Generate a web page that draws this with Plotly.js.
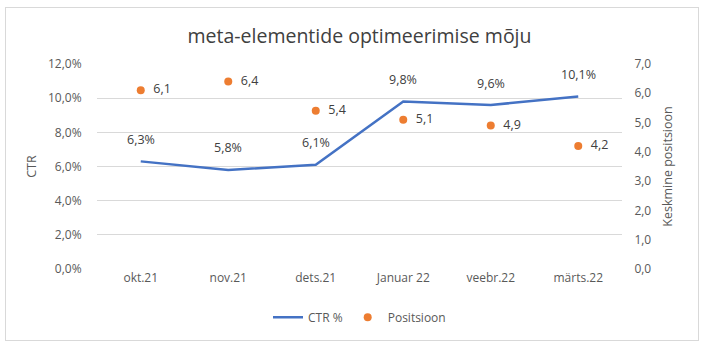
<!DOCTYPE html>
<html><head><meta charset="utf-8">
<script src="https://cdn.plot.ly/plotly-3.0.1.min.js"></script>
<style>
html,body{margin:0;padding:0;background:#fff;}
#wrap{position:relative;width:704px;height:350px;}
#chart{width:704px;height:350px;}
#frame{position:absolute;left:5px;top:7px;width:692px;height:332px;border:1px solid #d9d9d9;pointer-events:none;}
</style></head>
<body>
<div id="wrap"><div id="chart"></div><div id="frame"></div></div>
<script>
const categories = ["okt.21","nov.21","dets.21","Januar 22","veebr.22","märts.22"];
const ctr = [0.063,0.058,0.061,0.098,0.096,0.101];
const positsioon = [6.1,6.4,5.4,5.1,4.9,4.2];
const leftTicks = [0,0.02,0.04,0.06,0.08,0.10,0.12];
const rightTicks = [0,1,2,3,4,5,6,7];

const font = "Open Sans, Liberation Sans, sans-serif";
const traces = [
  {x:categories, y:ctr, type:"scatter", mode:"lines", name:"CTR %",
   line:{color:"#4472C4", width:2.5}, cliponaxis:false},
  {x:categories, y:positsioon, type:"scatter", mode:"markers+text", name:"Positsioon", yaxis:"y2",
   marker:{color:"#ED7D31", size:8},
   text:positsioon.map(v=>"  "+v.toFixed(1).replace(".",",")),
   textposition:"middle right", textfont:{size:12.5,color:"#404040",family:font},
   cliponaxis:false}
];
const annotations = categories.map((c,i)=>({
  x:c, y:ctr[i], xref:"x", yref:"y", showarrow:false, yshift:22,
  text:(ctr[i]*100).toFixed(1).replace(".",",")+"%",
  font:{size:12.5,color:"#404040",family:font}
}));
const layout = {
  width:704, height:350, separators:", ",
  margin:{l:97, r:82, t:64, b:81},
  paper_bgcolor:"#fff", plot_bgcolor:"#fff",
  font:{family:font, color:"#595959", size:12},
  annotations:annotations,
  title:{text:"meta-elementide optimeerimise mõju", x:0.5, xref:"paper", xanchor:"center", y:0.915, yref:"container",
         font:{size:19.5, color:"#404040", family:font}},
  xaxis:{type:"category", showgrid:false, zeroline:false, showline:false, ticks:"",
         tickfont:{size:12,color:"#595959"}, range:[-0.5,5.5]},
  yaxis:{range:[0,0.12], tickvals:leftTicks, tickformat:".1%", showgrid:true, gridcolor:"#d9d9d9", gridwidth:1,
         zeroline:false, showline:false, ticks:"outside", ticklen:12, tickcolor:"rgba(0,0,0,0)",
         tickfont:{size:12},
         title:{text:"CTR", font:{size:12.5,color:"#595959"}, standoff:8}},
  yaxis2:{range:[0,7], tickvals:rightTicks, tickformat:".1f", overlaying:"y", side:"right", showgrid:false,
          zeroline:false, showline:false, ticks:"outside", ticklen:9, tickcolor:"rgba(0,0,0,0)",
          tickfont:{size:12},
          title:{text:"Keskmine positsioon", font:{size:12.5,color:"#595959"}, standoff:12}},
  showlegend:true,
  legend:{orientation:"h", x:0.5, xanchor:"center", y:-0.235, yanchor:"middle", font:{size:12,color:"#595959"},
          itemwidth:30, traceorder:"normal"}
};
Plotly.newPlot("chart", traces, layout, {displayModeBar:false, staticPlot:true});
</script>
</body></html>
